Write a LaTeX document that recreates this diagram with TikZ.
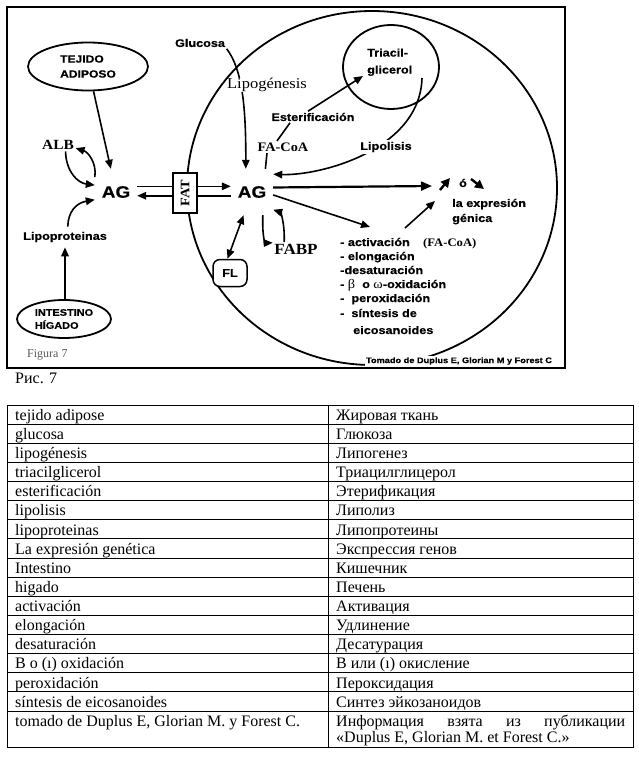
\documentclass[tikz,border=0pt]{standalone}
\usepackage{fontspec}
\setmainfont{Liberation Serif}
\newfontfamily\sanslab[FakeStretch=1.15,BoldFeatures={FakeBold=0.5}]{Liberation Sans}
\newfontfamily\serlab[FakeStretch=1.1]{Liberation Serif}
\usetikzlibrary{shapes.geometric,arrows.meta,calc,backgrounds}
\begin{document}
\begin{tikzpicture}[x=1pt,y=1pt,
  sl/.style={font=\sanslab\bfseries\fontsize{11}{14}\selectfont, inner sep=1.5pt},
  sb/.style={font=\serlab\bfseries\fontsize{#1}{#1}\selectfont, inner sep=1.5pt},
  ell/.style={draw, ellipse, line width=1.8pt, inner sep=0pt},
  ag/.style={font=\sanslab\bfseries\fontsize{16.5}{18}\selectfont, minimum width=42pt, minimum height=46pt, inner sep=0pt},
  lst/.style={font=\sanslab\bfseries\fontsize{11}{14}\selectfont, anchor=base west, inner sep=0pt},
  arr/.style={line width=1.6pt, -{Triangle[length=9pt,width=7.5pt]}},
  darr/.style={line width=1.6pt, {Triangle[length=9pt,width=7.5pt]}-{Triangle[length=9pt,width=7.5pt]}},
  bigarr/.style={line width=2.2pt, -{Triangle[length=11pt,width=9pt]}},
  smarr/.style={line width=2.4pt, -{Triangle[length=9pt,width=9pt]}},
  ln/.style={line width=1.6pt},
  tt/.style={anchor=base west, inner sep=0pt, font=\fontsize{16}{19}\selectfont},
  tl/.style={line width=0.9pt}]
\useasboundingbox (0,0) rectangle (639,-765);
\begin{scope}[on background layer]
  \fill[white] (0,0) rectangle (639,-765);
\end{scope}

% frame of the figure
\draw[line width=1.2pt] (7,-7) rectangle (565,-368);

% nodes
\node[ell, minimum width=120pt, minimum height=48pt, sl, font=\sanslab\bfseries\fontsize{10.5}{15}\selectfont, align=left] (tej) at (88,-66.5) {TEJIDO\\ADIPOSO};
\node[ell, minimum width=94pt, minimum height=38pt, font=\sanslab\bfseries\fontsize{9.5}{13}\selectfont, align=left] (int) at (64,-319) {INTESTINO\\HÍGADO};
\node[sl, inner ysep=5pt] (lipo) at (65,-237) {Lipoproteinas};
\node[sb=14] (alb) at (58,-145) {ALB};
\node[sl] (glu) at (200,-43) {Glucosa};
\node[font=\serlab\fontsize{15}{17}\selectfont, fill=white, inner sep=0.5pt] (lipog) at (267,-85) {Lipogénesis};

\node[draw, ellipse, line width=1.8pt, minimum width=370pt, minimum height=354pt, inner sep=0pt] (cell) at (372,-188) {};
\node[ell, minimum width=96pt, minimum height=84pt] (tri) at (391,-67) {};
\node[sl, anchor=west, align=left, font=\sanslab\bfseries\fontsize{11}{17}\selectfont] (trit) at (365.5,-62.2) {Triacil-\\glicerol};
\node[sl] (ester) at (313,-117) {Esterificación};
\node[sb=13] (facoa) at (283,-147) {FA-CoA};
\node[sl, fill=white] (lipol) at (386,-147) {Lipolisis};

\node[ag] (agL) at (116,-192) {AG};
\node[ag] (agR) at (252,-192) {AG};
\node[draw, fill=white, line width=1.3pt, rotate=90, minimum width=40pt, minimum height=24pt, inner sep=0pt, font=\serlab\bfseries\fontsize{13}{15}\selectfont] (fat) at (185,-193) {FAT};
\node[draw, fill=white, rounded corners=7pt, line width=1.5pt, minimum width=34pt, minimum height=27pt, inner sep=0pt, font=\sanslab\bfseries\fontsize{11}{13}\selectfont] (fl) at (230,-273) {FL};
\node[sb=15.5] (fabp) at (296,-249) {FABP};

\node[sl] (o) at (463,-183) {ó};
\node[sl, anchor=west, align=left, font=\sanslab\bfseries\fontsize{11}{15}\selectfont] (expr) at (450.5,-211.6) {la expresión\\génica};

\node[lst] (l1) at (340,-246) {- activación};
\node[sb=11.5, anchor=base west, inner sep=0pt] (l1b) at (423,-246) {(FA-CoA)};
\node[lst] (l2) at (340,-260) {- elongación};
\node[lst] (l3) at (340,-274) {-desaturación};
\node[lst] (l4) at (340,-288) {- {\serlab\mdseries\fontsize{13}{14}\selectfont β}\ \ o {\serlab\mdseries\fontsize{13}{14}\selectfont ω}-oxidación};
\node[lst] (l5) at (340,-302) {-\ \ peroxidación};
\node[lst] (l6) at (340,-317) {-\ \ síntesis de};
\node[lst] (l7) at (353,-334) {eicosanoides};

\node[font=\sanslab\bfseries\fontsize{8}{10}\selectfont, fill=white, inner sep=1pt] (tom) at (459,-361) {Tomado de Duplus E, Glorian M y Forest C};
\node[font=\fontsize{12}{14}\selectfont, text=black!65, anchor=base west, inner sep=0pt] (fig) at (27,-357) {Figura 7};
\node[font=\fontsize{16}{19}\selectfont, anchor=base west, inner sep=0pt] (ris) at (15,-383) {Рис. 7};

% free ends
\coordinate (e1) at (432,-186);
\coordinate (s1) at (440,-190);
\coordinate (s2) at (450,-178);
\coordinate (s3) at (471,-179);
\coordinate (s4) at (484,-189);
\coordinate (e2) at (370,-227);
\coordinate (e3) at (405,-228);
\coordinate (e4) at (435,-201);
\coordinate (lipst) at ($(tri.center)+(31,-11)$);
\coordinate (estend) at ($(tri.center)+(-28,-9)$);

% connectors
\begin{scope}[on background layer]
  \draw[arr] (tej) -- (agL);
  \draw[arr] (alb.-40) .. controls (66,-172) and (78,-183) .. (agL.162);
  \draw[arr] (agL.145) .. controls (97,-163) and (88,-152) .. (alb.-10);
  \draw[arr] (lipo.75) .. controls (68,-212) and (76,-203) .. (agL.200);
  \draw[arr] (int.north -| lipo.south) -- (lipo.south);
  \draw[arr] (glu.south east) .. controls (241,-68) and (246,-100) .. (agR.105);
  \draw[arr] (agL.15) -- (agR.165);
  \draw[arr] (agR.190) -- (agL.-10);
  \draw[darr] (fl.100) -- (agR.-110);
  \draw[arr] (agR.-65) .. controls (262,-240) and (266,-243) .. (fabp.165);
  \draw[arr] (fabp.150) .. controls (285,-222) and (280,-212) .. (agR.-40);
  \draw[ln] ([xshift=-23pt]ester.south) -- ([xshift=-6pt]facoa.north);
  \draw[ln] ([xshift=-16pt]facoa.south) -- (agR.60);
  \draw[arr] ([xshift=-5pt]ester.north) -- (estend);
  \draw[arr] (lipst) .. controls (420,-150) and (320,-176) .. (agR.40);
  \draw[bigarr] (agR.12) -- (e1);
  \draw[smarr] (s1) -- (s2);
  \draw[smarr] (s3) -- (s4);
  \draw[arr] (agR.-8) -- (e2);
  \draw[arr] (e3) -- (e4);
\end{scope}

% table
\draw[tl] (7,-405) rectangle (633,-747);
\draw[tl] (328,-405) -- (328,-747);
\foreach \k in {1,...,16} {
  \draw[tl] (7,{-(405+19.125*\k)}) -- (633,{-(405+19.125*\k)});
}
\foreach \a/\b [count=\i from 0] in {
  tejido adipose/Жировая ткань,
  glucosa/Глюкоза,
  lipogénesis/Липогенез,
  triacilglicerol/Триацилглицерол,
  esterificación/Этерификация,
  lipolisis/Липолиз,
  lipoproteinas/Липопротеины,
  La expresión genética/Экспрессия генов,
  Intestino/Кишечник,
  higado/Печень,
  activación/Активация,
  elongación/Удлинение,
  desaturación/Десатурация,
  B o (ı) oxidación/В или (ı) окисление,
  peroxidación/Пероксидация,
  síntesis de eicosanoides/Синтез эйкозаноидов} {
  \node[tt] (L\i) at (15,{-(405+19.125*\i+15.3)}) {\a};
  \node[tt] (R\i) at (336,{-(405+19.125*\i+15.3)}) {\b};
}
\node[tt] (L16) at (15,-726) {tomado de Duplus E, Glorian M. y Forest C.};
\node[tt] (R16) at (336,-726) {\makebox[289pt][l]{Информация\hfill взята\hfill из\hfill публикации}};
\node[tt] (R16b) at (336,-742) {«Duplus E, Glorian M. et Forest C.»};
\end{tikzpicture}
\end{document}
